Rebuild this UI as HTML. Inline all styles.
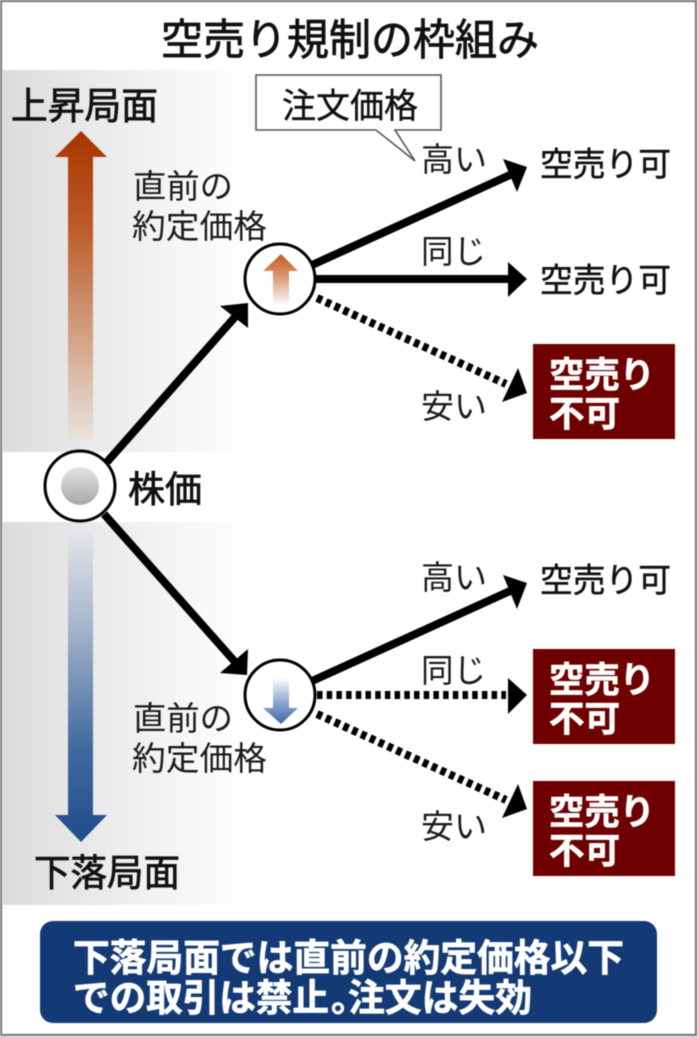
<!DOCTYPE html>
<html lang="ja">
<head>
<meta charset="utf-8">
<style>
html,body{margin:0;padding:0;background:#fff;width:698px;height:1037px;overflow:hidden}
svg{display:block;filter:blur(.45px)}
text{font-family:"Liberation Sans","Noto Sans CJK JP",sans-serif}
.m{fill:#111;stroke:#111;stroke-width:.8}
.l{fill:#1a1a1a;font-size:33px;font-weight:400}
.b{fill:#fff;stroke:#fff;stroke-width:.7;font-size:35.5px;font-weight:700}
</style>
</head>
<body>
<svg width="698" height="1037" viewBox="0 0 698 1037" xmlns="http://www.w3.org/2000/svg">
<defs>
<linearGradient id="band" x1="0" x2="1" y1="0" y2="0">
<stop offset="0" stop-color="#dcdcdc"/><stop offset=".5" stop-color="#efefef"/><stop offset="1" stop-color="#fff"/>
</linearGradient>
<linearGradient id="up" x1="0" x2="0" y1="0" y2="1">
<stop offset="0" stop-color="#a83400"/><stop offset=".3" stop-color="#bb5a28"/><stop offset=".7" stop-color="#d6a88e"/><stop offset="1" stop-color="#e9e4e0"/>
</linearGradient>
<linearGradient id="down" x1="0" x2="0" y1="0" y2="1">
<stop offset="0" stop-color="#e4e6ea"/><stop offset=".3" stop-color="#a7b5cb"/><stop offset=".7" stop-color="#406a9e"/><stop offset="1" stop-color="#1f4d8c"/>
</linearGradient>
<linearGradient id="up2" x1="0" x2="0" y1="0" y2="1">
<stop offset="0" stop-color="#c35a1c"/><stop offset=".45" stop-color="#dc9a78"/><stop offset="1" stop-color="#fff"/>
</linearGradient>
<linearGradient id="down2" x1="0" x2="0" y1="0" y2="1">
<stop offset="0" stop-color="#fff"/><stop offset=".55" stop-color="#8aa3cb"/><stop offset="1" stop-color="#3e68aa"/>
</linearGradient>
<linearGradient id="gray" x1="0" x2="0" y1="0" y2="1">
<stop offset="0" stop-color="#e4e4e4"/><stop offset="1" stop-color="#a8a8a8"/>
</linearGradient>
</defs>

<rect width="698" height="1037" fill="#fff"/>
<rect x="3" y="70" width="250" height="382" fill="url(#band)"/>
<rect x="3" y="522" width="250" height="383" fill="url(#band)"/>
<rect x="1" y="1" width="695" height="1034" fill="none" stroke="#808080" stroke-width="2.4"/>

<text x="161" y="55" font-size="43" class="m" textLength="378" lengthAdjust="spacingAndGlyphs">空売り規制の枠組み</text>
<text x="11" y="119" font-size="37.5" class="m" textLength="147" lengthAdjust="spacingAndGlyphs">上昇局面</text>
<text x="34" y="886" font-size="37.5" class="m" textLength="146" lengthAdjust="spacingAndGlyphs">下落局面</text>

<polygon points="81,131 107,157 93,157 93,440 68,440 68,157 55,157" fill="url(#up)"/>
<polygon points="68,532 93,532 93,815 107,815 81,842 55,815 68,815" fill="url(#down)"/>

<!-- connectors -->
<g stroke="#000" stroke-width="8" fill="none">
<line x1="107" y1="462" x2="235" y2="317"/>
<line x1="104" y1="514" x2="236" y2="663"/>
<line x1="312" y1="265" x2="510" y2="175"/>
<line x1="314" y1="279" x2="510" y2="279"/>
<line x1="312" y1="681" x2="510" y2="591"/>
</g>
<g stroke="#000" stroke-width="8" fill="none" stroke-dasharray="5.5 4.2">
<line x1="317" y1="298" x2="506" y2="384"/>
<line x1="317" y1="695" x2="506" y2="695"/>
<line x1="317" y1="714" x2="506" y2="800"/>
</g>
<g fill="#000">
<polygon points="248,303 220,306 248,328"/>
<polygon points="247,675 220,673 248,649"/>
<polygon points="527,167 503,159 517,192"/>
<polygon points="527,279 508,262 508,297"/>
<polygon points="527,393 518,368 502,402"/>
<polygon points="527,583 503,575 517,609"/>
<polygon points="527,695 508,678 508,714"/>
<polygon points="527,809 518,784 502,818"/>
</g>

<!-- circles -->
<circle cx="80" cy="486" r="35" fill="#fff" stroke="#000" stroke-width="3"/>
<circle cx="80" cy="486" r="19" fill="url(#gray)"/>
<circle cx="280" cy="279" r="35" fill="#fff" stroke="#000" stroke-width="3"/>
<polygon points="281,254 298,271 289,271 289,306 273,306 273,271 263,271" fill="url(#up2)"/>
<circle cx="280" cy="695" r="35" fill="#fff" stroke="#000" stroke-width="3"/>
<polygon points="273,678 289,678 289,708 298,708 281,724 263,708 273,708" fill="url(#down2)"/>

<text x="128" y="502" font-size="36.5" class="m" textLength="74" lengthAdjust="spacingAndGlyphs">株価</text>

<!-- callout -->
<polygon points="256,75 441,75 441,130 395,130 415,161 376,130 256,130" fill="#fff" stroke="#555" stroke-width="1.6" stroke-linejoin="miter"/>
<text x="282" y="118" font-size="34.5" class="m" style="stroke-width:.4" textLength="136" lengthAdjust="spacingAndGlyphs">注文価格</text>

<!-- labels -->
<text x="133" y="198" class="l" textLength="100" lengthAdjust="spacingAndGlyphs">直前の</text>
<text x="132" y="238" class="l" textLength="135" lengthAdjust="spacingAndGlyphs">約定価格</text>
<text x="133" y="730" class="l" textLength="100" lengthAdjust="spacingAndGlyphs">直前の</text>
<text x="132" y="770" class="l" textLength="135" lengthAdjust="spacingAndGlyphs">約定価格</text>

<text x="421" y="171" class="l" textLength="66" lengthAdjust="spacingAndGlyphs">高い</text>
<text x="421" y="263" class="l" textLength="65" lengthAdjust="spacingAndGlyphs">同じ</text>
<text x="421" y="418" class="l" textLength="66" lengthAdjust="spacingAndGlyphs">安い</text>
<text x="421" y="589" class="l" textLength="66" lengthAdjust="spacingAndGlyphs">高い</text>
<text x="421" y="682" class="l" textLength="65" lengthAdjust="spacingAndGlyphs">同じ</text>
<text x="421" y="838" class="l" textLength="66" lengthAdjust="spacingAndGlyphs">安い</text>

<text x="540" y="176" font-size="33.5" class="m" style="stroke-width:.5" textLength="131" lengthAdjust="spacingAndGlyphs">空売り可</text>
<text x="540" y="292" font-size="33.5" class="m" style="stroke-width:.5" textLength="131" lengthAdjust="spacingAndGlyphs">空売り可</text>
<text x="540" y="592" font-size="33.5" class="m" style="stroke-width:.5" textLength="131" lengthAdjust="spacingAndGlyphs">空売り可</text>

<!-- boxes -->
<rect x="533" y="344" width="142" height="95" fill="#6f0000"/>
<text x="549" y="387" class="b" textLength="106" lengthAdjust="spacingAndGlyphs">空売り</text>
<text x="549" y="426" class="b" textLength="71" lengthAdjust="spacingAndGlyphs">不可</text>
<rect x="533" y="649" width="142" height="95" fill="#6f0000"/>
<text x="549" y="692" class="b" textLength="106" lengthAdjust="spacingAndGlyphs">空売り</text>
<text x="549" y="731" class="b" textLength="71" lengthAdjust="spacingAndGlyphs">不可</text>
<rect x="533" y="781" width="142" height="95" fill="#6f0000"/>
<text x="549" y="824" class="b" textLength="106" lengthAdjust="spacingAndGlyphs">空売り</text>
<text x="549" y="863" class="b" textLength="71" lengthAdjust="spacingAndGlyphs">不可</text>

<!-- note -->
<rect x="40" y="921" width="617" height="102" rx="13" ry="13" fill="#133a75"/>
<text x="73" y="971" class="b" style="font-size:37.5px" textLength="551" lengthAdjust="spacingAndGlyphs">下落局面では直前の約定価格以下</text>
<text x="73" y="1011" class="b" style="font-size:37.5px" textLength="256" lengthAdjust="spacingAndGlyphs">での取引は禁止</text>
<text x="331" y="1011" class="b" style="font-size:36px">。</text>
<text x="348" y="1011" class="b" style="font-size:37.5px" textLength="184" lengthAdjust="spacingAndGlyphs">注文は失効</text>
</svg>
</body>
</html>
